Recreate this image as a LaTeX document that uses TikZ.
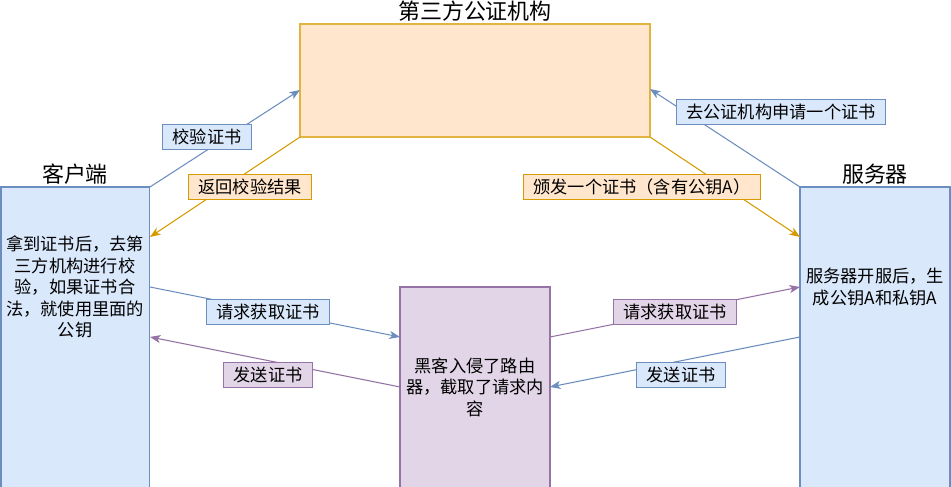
\documentclass[tikz,border=0pt]{standalone}
\usepackage{fontspec}
\setmainfont{Noto Sans CJK SC}
\usepackage{tikz}
\usetikzlibrary{arrows.meta, positioning}
\definecolor{bluefill}{HTML}{DAE8FC}
\definecolor{blueline}{HTML}{6C8EBF}
\definecolor{orangefill}{HTML}{FFE6CC}
\definecolor{orangeline}{HTML}{D79B00}
\definecolor{purplefill}{HTML}{E1D5E7}
\definecolor{purpleline}{HTML}{9673A6}

\begin{document}
\begin{tikzpicture}[x=0.02cm, y=-0.02cm, line width=0.6pt,
  >={Stealth[length=6pt, width=4.6pt, inset=1.6pt]},
  box/.style={draw, outer sep=0pt, inner sep=0pt, anchor=north west},
  bluec/.style={fill=bluefill, draw=blueline},
  orangec/.style={fill=orangefill, draw=orangeline},
  purplec/.style={fill=purplefill, draw=purpleline},
  title/.style={font=\fontsize{12.5pt}{14pt}\selectfont},
  txt/.style={align=center, font=\fontsize{9.8pt}{12.2pt}\selectfont},
  lbl/.style={draw, inner xsep=5.6pt, inner ysep=0pt, minimum height=0.5cm,
    font=\fontsize{9.8pt}{12pt}\selectfont}]
  \useasboundingbox[fill=white] (0,0) rectangle (951,487);

  % Uzly
  \node[box, bluec, minimum width=2.98cm, minimum height=6.2cm] (klient) at (1,187) {};
  \node[box, orangec, draw=orangeline!75, line width=1pt,
    minimum width=7cm, minimum height=2.26cm] (autorita) at (300,24) {};
  \node[box, bluec, minimum width=3cm, minimum height=6.2cm] (server) at (800,187) {};
  \node[box, purplec, minimum width=3cm, minimum height=4.2cm] (hacker) at (400,287) {};

  % Nadpisy
  \node[title] (klientT) at (75,174) {客户端};
  \node[title] (autoritaT) at (475,11) {第三方公证机构};
  \node[title] (serverT) at (875,174) {服务器};

  % Texty
  \node[txt] (klientTxt) at (75,287) {拿到证书后，去第\\三方机构进行校\\验，如果证书合\\法，就使用里面的\\公钥};
  \node[txt] (serverTxt) at (875,287) {服务器开服后，生\\成公钥A和私钥A};
  \node[txt] (hackerTxt) at (475,387) {黑客入侵了路由\\器，截取了请求内\\容};

  % Sipky
  \draw[->, blueline] (klient.north east) -- ([yshift=-1.32cm]autorita.north west);
  \draw[->, orangeline] (autorita.south west) -- ([yshift=-1cm]klient.north east);
  \draw[->, blueline] (server.north west) -- ([yshift=-1.3cm]autorita.north east);
  \draw[->, orangeline] (autorita.south east) -- ([yshift=-1cm]server.north west);
  \draw[->, blueline] ([yshift=-2cm]klient.north east) -- ([yshift=-1cm]hacker.north west);
  \draw[->, purpleline] ([yshift=-1cm]hacker.north east) -- ([yshift=-2cm]server.north west);
  \draw[->, blueline] ([yshift=-3cm]server.north west) -- ([yshift=-2cm]hacker.north east);
  \draw[->, purpleline] ([yshift=-2cm]hacker.north west) -- ([yshift=-3cm]klient.north east);

  % Popisky
  \node[lbl, bluec] (lblA) at (207,137) {校验证书};
  \node[lbl, orangec] (lblB) at (250,187) {返回校验结果};
  \node[lbl, bluec] (lblC) at (781,112) {去公证机构申请一个证书};
  \node[lbl, orangec] (lblD) at (642,187) {颁发一个证书（含有公钥A）};
  \node[lbl, bluec] (lblE) at (268,312) {请求获取证书};
  \node[lbl, purplec] (lblF) at (675,312) {请求获取证书};
  \node[lbl, bluec] (lblG) at (681,375) {发送证书};
  \node[lbl, purplec] (lblH) at (268,375) {发送证书};
\end{tikzpicture}
\end{document}
